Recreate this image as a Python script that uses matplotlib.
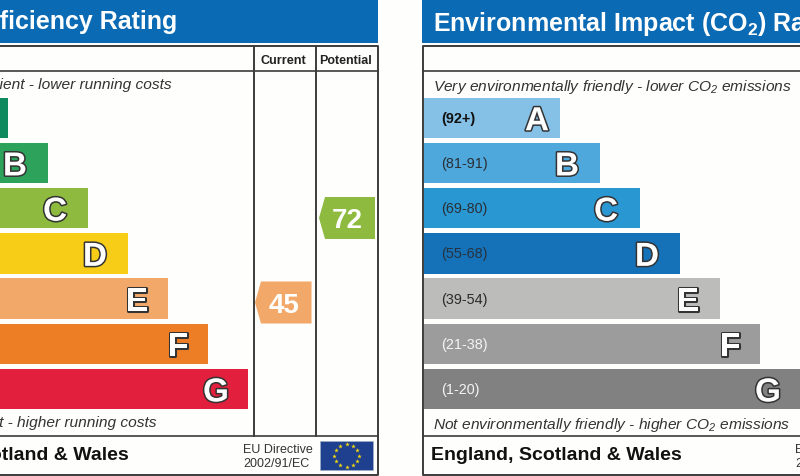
import numpy as np
from matplotlib import pyplot as plt
from matplotlib import patheffects as pe
from matplotlib.patches import Polygon, Rectangle

plt.rcParams['font.family'] = ['Liberation Sans', 'DejaVu Sans']
plt.rcParams['mathtext.default'] = 'regular'

bands = ['A', 'B', 'C', 'D', 'E', 'F', 'G']
ranges = ['(92+)', '(81-91)', '(69-80)', '(55-68)', '(39-54)', '(21-38)', '(1-20)']
energy_ends = [8, 48, 88, 128, 168, 208, 248]
co2_ends = [559.5, 599.5, 639.5, 679.5, 719.5, 759.5, 801]
energy_colors = ['#0f8a5f', '#2ca25a', '#8dba3f', '#f7cd17', '#f2a869', '#ee7e25', '#e21f3c']
co2_colors = ['#85c1e6', '#4ea8dc', '#2897d2', '#1572b8', '#bcbcba', '#9c9c9c', '#818181']
range_colors = ['#111111', '#2b2f36', '#2b2f36', '#27323f', '#2b2b2b', '#f4f4f4', '#f4f4f4']
current_score = 45
potential_score = 72
current_color = '#f2a869'
potential_color = '#8dba3f'

BLUE = '#0a6ab3'
LINE = '#3c3c3c'
TEXT = '#333333'

fig = plt.figure(figsize=(8, 4.76), dpi=100, facecolor='#fefefd')
ax = fig.add_axes([0, 0, 1, 1])
ax.set_xlim(0, 800)
ax.set_ylim(476, 0)
ax.axis('off')

row_tops = 97.5 + 45.2 * np.arange(7)
row_h = 40.5
rows = row_tops + row_h / 2


def band_letter(x, y, s):
    ax.text(x, y, s, color='white', fontsize=24, fontweight='bold', ha='center', va='center_baseline',
            path_effects=[pe.withStroke(linewidth=2.2, foreground='#333333')], zorder=5)


def score_arrow(left, right, y, score, color):
    h = 21
    ax.add_patch(Polygon([(left, y), (left + 6, y - h), (right, y - h), (right, y + h), (left + 6, y + h)],
                         closed=True, facecolor=color, edgecolor='none', zorder=4))
    ax.text((left + right) / 2 + 0.5, y + 0.5, str(score), color='white', fontsize=20, fontweight='bold',
            ha='center', va='center_baseline', zorder=5)


# naglowki
ax.add_patch(Rectangle((0, 0), 378, 43, facecolor=BLUE, edgecolor='none'))
ax.add_patch(Rectangle((422, 0), 379, 43, facecolor=BLUE, edgecolor='none'))
ax.text(177, 20, 'Energy Efficiency Rating', color='white', fontsize=18, fontweight='bold', ha='right',
        va='center_baseline')
ax.text(433, 20, 'Environmental Impact (CO$_2$) Rating', color='white', fontsize=18, fontweight='bold',
        ha='left', va='center_baseline')

# ramki
ax.plot([0, 377.5, 377.5, 0], [46, 46, 474.5, 474.5], color=LINE, lw=1.4)
ax.plot([0, 377.5], [71, 71], color=LINE, lw=1.2)
ax.plot([0, 377.5], [435.5, 435.5], color=LINE, lw=1.2)
ax.plot([253.5, 253.5], [46, 435.5], color=LINE, lw=1.4)
ax.plot([315.5, 315.5], [46, 435.5], color=LINE, lw=1.4)
ax.plot([800, 423, 423, 800], [46, 46, 474.5, 474.5], color=LINE, lw=1.4)
ax.plot([423, 800], [71, 71], color=LINE, lw=1.2)
ax.plot([423, 800], [435.5, 435.5], color=LINE, lw=1.2)

ax.text(283, 59, 'Current', color='#222222', fontsize=9.1, fontweight='bold', ha='center', va='center_baseline')
ax.text(346, 59, 'Potential', color='#222222', fontsize=9, fontweight='bold', ha='center', va='center_baseline')

# slupki
ax.barh(rows, energy_ends, height=row_h, color=energy_colors, zorder=2)
ax.barh(rows, np.array(co2_ends) - 424, left=424, height=row_h, color=co2_colors, zorder=2)

energy_letter_x = [-25, 15, 55, 95, 137, 178, 216]
co2_letter_x = [537, 567, 606, 647, 688, 730, 768]
for i, s in enumerate(bands):
    band_letter(energy_letter_x[i], rows[i] + 0.5, s)
    band_letter(co2_letter_x[i], rows[i] + 0.5, s)
    ax.text(441.5, rows[i] - 0.5, ranges[i], color=range_colors[i], fontsize=10.4, ha='left', va='center_baseline',
            fontweight='bold' if i == 0 else 'normal', zorder=5)

score_arrow(319, 375, 218, potential_score, potential_color)
score_arrow(255, 311.5, 302.5, current_score, current_color)

# opisy
ax.text(172, 84, 'Very energy efficient - lower running costs', color=TEXT, fontsize=11.15, style='italic',
        ha='right', va='center_baseline')
ax.text(157, 422, 'Not energy efficient - higher running costs', color=TEXT, fontsize=11.15, style='italic',
        ha='right', va='center_baseline')
ax.text(433, 84, 'Very environmentally friendly - lower CO$_2$ emissions', color=TEXT, fontsize=11.15,
        style='italic', ha='left', va='center_baseline')
ax.text(433, 422, 'Not environmentally friendly - higher CO$_2$ emissions', color=TEXT, fontsize=11.15,
        style='italic', ha='left', va='center_baseline')

# stopki
ax.text(128.5, 454, 'England, Scotland & Wales', color='#111111', fontsize=14, fontweight='bold', ha='right',
        va='center_baseline')
ax.text(431, 454, 'England, Scotland & Wales', color='#111111', fontsize=14, fontweight='bold', ha='left',
        va='center_baseline')
ax.text(243, 448.5, 'EU Directive', color=TEXT, fontsize=9, ha='left', va='center_baseline')
ax.text(243, 462.5, '2002/91/EC', color=TEXT, fontsize=9, ha='left', va='center_baseline')
ax.text(795, 448.5, 'EU Directive', color=TEXT, fontsize=9, ha='left', va='center_baseline')
ax.text(795, 462.5, '2002/91/EC', color=TEXT, fontsize=9, ha='left', va='center_baseline')

# flaga
ax.add_patch(Rectangle((320, 441), 53, 29, facecolor='#1f3f8f', edgecolor='#9fb0c8', lw=0.5))
t = np.arange(12) * np.pi / 6
ax.scatter(346.5 + 12.5 * np.cos(t), 455.5 + 11.5 * np.sin(t), marker='*', s=12, color='#f5d90a', linewidths=0, zorder=5)

fig.savefig('out.png', dpi=100, facecolor=fig.get_facecolor())
